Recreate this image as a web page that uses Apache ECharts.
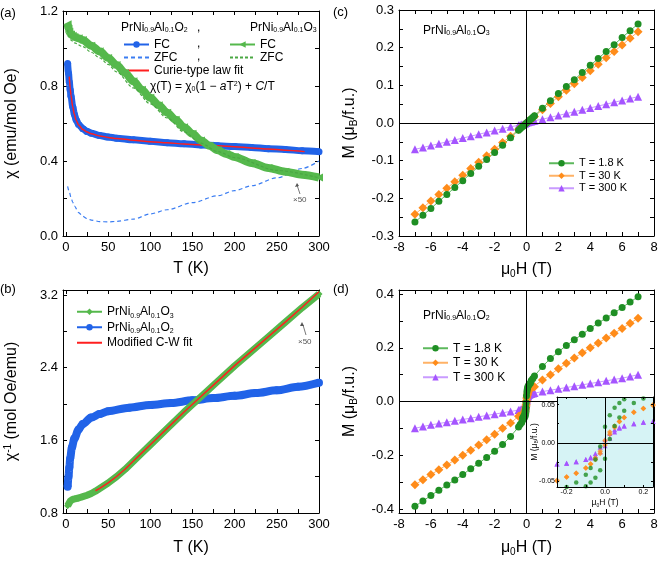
<!DOCTYPE html>
<html>
<head>
<meta charset="utf-8">
<script src="https://cdn.jsdelivr.net/npm/echarts@6/dist/echarts.min.js"></script>
<style>
  html, body { margin: 0; background: #fff; }
  #chart { width: 661px; height: 562px; }
</style>
</head>
<body>
<div id="chart"></div>
<script>
// ---- (a) chi vs T ----
const tBlueFC = [2, 3, 4, 5, 6, 8, 10, 12, 15, 20, 25, 30, 40, 50, 60, 80, 100, 120, 140, 160, 180, 200, 220, 240, 260, 280, 300];
const chiBlueFC = [0.92, 0.87, 0.82, 0.78, 0.745, 0.69, 0.65, 0.62, 0.595, 0.572, 0.558, 0.548, 0.536, 0.528, 0.522, 0.513, 0.505, 0.498, 0.492, 0.486, 0.481, 0.477, 0.472, 0.466, 0.461, 0.455, 0.45];
const tCurieFit = [4, 5, 6, 8, 10, 12, 15, 20, 25, 30, 40, 50, 60, 80, 100, 120, 140, 160, 180, 200, 220, 240, 260, 283];
const chiCurieFit = [0.85, 0.79, 0.75, 0.69, 0.648, 0.618, 0.592, 0.568, 0.555, 0.545, 0.534, 0.526, 0.52, 0.511, 0.503, 0.497, 0.491, 0.486, 0.481, 0.476, 0.47, 0.464, 0.458, 0.45];
const tBlueZFC = [2, 4, 6, 8, 10, 15, 20, 25, 30, 40, 50, 60, 80, 100, 120, 150, 180, 200, 220, 250, 280, 300];
const chiBlueZFC = [0.265, 0.235, 0.205, 0.18, 0.16, 0.125, 0.105, 0.093, 0.085, 0.077, 0.075, 0.078, 0.09, 0.118, 0.14, 0.178, 0.215, 0.242, 0.268, 0.31, 0.36, 0.4];
const tGreenFC = [2, 3, 4, 6, 8, 10, 15, 20, 30, 40, 50, 60, 70, 80, 90, 100, 110, 120, 130, 140, 150, 160, 170, 180, 190, 200, 220, 240, 260, 280, 300];
const chiGreenFC = [1.13, 1.105, 1.09, 1.075, 1.068, 1.062, 1.055, 1.045, 1.015, 0.985, 0.95, 0.912, 0.87, 0.825, 0.78, 0.737, 0.698, 0.658, 0.62, 0.58, 0.545, 0.51, 0.482, 0.457, 0.438, 0.422, 0.39, 0.363, 0.343, 0.327, 0.312];
const tGreenZFC = [2, 4, 6, 10, 20, 30, 40, 50, 60, 80, 100, 120, 140, 160, 180, 200, 250, 300];
const chiGreenZFC = [1.1, 1.06, 1.045, 1.03, 1.01, 0.98, 0.95, 0.915, 0.875, 0.79, 0.705, 0.63, 0.555, 0.495, 0.45, 0.418, 0.35, 0.31];

// ---- (b) 1/chi vs T ----
const tGreenInv = [2, 3, 5, 8, 10, 15, 20, 25, 30, 35, 40, 50, 60, 70, 80, 90, 100, 120, 140, 160, 180, 200, 220, 240, 260, 280, 300];
const invGreen = [0.88, 0.9, 0.93, 0.95, 0.955, 0.965, 0.98, 0.995, 1.015, 1.04, 1.07, 1.13, 1.2, 1.28, 1.37, 1.46, 1.55, 1.73, 1.91, 2.08, 2.25, 2.42, 2.58, 2.74, 2.9, 3.06, 3.21];
const tCWFit = [35, 40, 50, 60, 70, 80, 90, 100, 120, 140, 160, 180, 200, 220, 240, 260, 280, 300];
const invCWFit = [1.045, 1.072, 1.132, 1.202, 1.282, 1.372, 1.462, 1.552, 1.732, 1.912, 2.082, 2.252, 2.422, 2.582, 2.742, 2.902, 3.065, 3.235];
const tBlueInv = [2, 3, 4, 5, 7, 10, 15, 20, 30, 40, 50, 75, 100, 125, 150, 175, 200, 225, 250, 275, 300];
const invBlue = [1.09, 1.2, 1.3, 1.4, 1.52, 1.62, 1.72, 1.78, 1.85, 1.89, 1.92, 1.96, 1.99, 2.01, 2.04, 2.065, 2.09, 2.12, 2.15, 2.19, 2.235];

// ---- (c) M vs H, PrNi0.9Al0.1O3 ----
const hC = [-7, -6.5, -6, -5.5, -5, -4.5, -4, -3.5, -3, -2.5, -2, -1.5, -1, -0.5, -0.4, -0.3, -0.2, -0.1, 0, 0.1, 0.2, 0.3, 0.4, 0.5, 1, 1.5, 2, 2.5, 3, 3.5, 4, 4.5, 5, 5.5, 6, 6.5, 7];
const m18C = [-0.263, -0.245, -0.227, -0.208, -0.19, -0.171, -0.153, -0.134, -0.115, -0.097, -0.078, -0.059, -0.039, -0.019, -0.015, -0.011, -0.008, -0.004, 0, 0.004, 0.008, 0.011, 0.015, 0.019, 0.039, 0.059, 0.078, 0.097, 0.115, 0.134, 0.153, 0.171, 0.19, 0.208, 0.227, 0.245, 0.263];
const m30C = [-0.242, -0.225, -0.207, -0.19, -0.173, -0.156, -0.139, -0.121, -0.104, -0.087, -0.07, -0.052, -0.035, -0.0175, -0.014, -0.0105, -0.007, -0.0035, 0, 0.0035, 0.007, 0.0105, 0.014, 0.0175, 0.035, 0.052, 0.07, 0.087, 0.104, 0.121, 0.139, 0.156, 0.173, 0.19, 0.207, 0.225, 0.242];
const m300C = [-0.07, -0.065, -0.06, -0.055, -0.05, -0.045, -0.04, -0.035, -0.03, -0.025, -0.02, -0.015, -0.01, -0.006, -0.005, -0.004, -0.003, -0.002, 0, 0.002, 0.003, 0.004, 0.005, 0.006, 0.01, 0.015, 0.02, 0.025, 0.03, 0.035, 0.04, 0.045, 0.05, 0.055, 0.06, 0.065, 0.07];

// ---- (d) M vs H, PrNi0.9Al0.1O2 ----
const hOutNeg = [-7, -6.5, -6, -5.5, -5, -4.5, -4, -3.5, -3, -2.5, -2, -1.5, -1, -0.5, -0.4, -0.3];
const hOutPos = [0.3, 0.4, 0.5, 1, 1.5, 2, 2.5, 3, 3.5, 4, 4.5, 5, 5.5, 6, 6.5, 7];
const m18DNeg = [-0.39, -0.37, -0.35, -0.33, -0.311, -0.292, -0.272, -0.25, -0.23, -0.208, -0.185, -0.16, -0.13, -0.095, -0.086, -0.078];
const m18DPos = [0.078, 0.086, 0.095, 0.13, 0.16, 0.185, 0.208, 0.23, 0.25, 0.272, 0.292, 0.311, 0.33, 0.35, 0.37, 0.39];
const m30DNeg = [-0.31, -0.291, -0.272, -0.254, -0.236, -0.218, -0.2, -0.181, -0.162, -0.142, -0.122, -0.1, -0.08, -0.055, -0.054, -0.052];
const m30DPos = [0.052, 0.054, 0.055, 0.08, 0.1, 0.122, 0.142, 0.162, 0.181, 0.2, 0.218, 0.236, 0.254, 0.272, 0.291, 0.31];
const m300DNeg = [-0.1, -0.093, -0.087, -0.082, -0.077, -0.072, -0.067, -0.062, -0.057, -0.052, -0.047, -0.042, -0.037, -0.032, -0.03, -0.029];
const m300DPos = [0.029, 0.03, 0.032, 0.037, 0.042, 0.047, 0.052, 0.057, 0.062, 0.067, 0.072, 0.077, 0.082, 0.087, 0.093, 0.1];

// inset loops (low field)
const hIn = [-0.25, -0.2, -0.15, -0.1, -0.075, -0.05, -0.025, 0, 0.025, 0.05, 0.075, 0.1, 0.15, 0.2, 0.25];
const m18Down = [-0.062, -0.058, -0.052, -0.042, -0.033, -0.022, -0.005, 0.021, 0.036, 0.046, 0.052, 0.057, 0.062, 0.066, 0.069];
const m18Up = [-0.069, -0.066, -0.062, -0.057, -0.052, -0.046, -0.036, -0.021, 0.005, 0.022, 0.033, 0.042, 0.052, 0.058, 0.062];
const m30Down = [-0.049, -0.045, -0.04, -0.033, -0.028, -0.02, -0.011, 0.003, 0.014, 0.022, 0.028, 0.033, 0.04, 0.045, 0.05];
const m30Up = [-0.05, -0.045, -0.04, -0.033, -0.028, -0.022, -0.014, -0.003, 0.011, 0.02, 0.028, 0.033, 0.04, 0.045, 0.049];
const m300Down = [-0.028, -0.027, -0.025, -0.022, -0.019, -0.014, -0.006, 0.004, 0.012, 0.017, 0.02, 0.022, 0.025, 0.027, 0.028];
const m300Up = [-0.028, -0.027, -0.025, -0.022, -0.02, -0.017, -0.012, -0.004, 0.006, 0.014, 0.019, 0.022, 0.025, 0.027, 0.028];

// ticks
const tTicks = [0, 25, 50, 75, 100, 125, 150, 175, 200, 225, 250, 275, 300];
const tLabels = [0, 50, 100, 150, 200, 250, 300];
const chiTicks = [0, 0.2, 0.4, 0.6, 0.8, 1.0, 1.2];
const chiLabels = [0, 0.4, 0.8, 1.2];
const invTicks = [0.8, 1.2, 1.6, 2.0, 2.4, 2.8, 3.2];
const invLabels = [0.8, 1.6, 2.4, 3.2];
const hTicks = [-8, -7, -6, -5, -4, -3, -2, -1, 0, 1, 2, 3, 4, 5, 6, 7, 8];
const hLabels = [-8, -6, -4, -2, 0, 2, 4, 6, 8];
const mCTicks = [-0.3, -0.25, -0.2, -0.15, -0.1, -0.05, 0, 0.05, 0.1, 0.15, 0.2, 0.25, 0.3];
const mCLabels = [-0.3, -0.2, -0.1, 0, 0.1, 0.2, 0.3];
const mDTicks = [-0.4, -0.3, -0.2, -0.1, 0, 0.1, 0.2, 0.3, 0.4];
const mDLabels = [-0.4, -0.2, 0, 0.2, 0.4];
const hInTicks = [-0.2, -0.1, 0, 0.1, 0.2];
const hInLabels = [-0.2, 0, 0.2];
const mInTicks = [-0.05, -0.025, 0, 0.025, 0.05];
const mInLabels = [-0.05, 0, 0.05];

const FONT = '"Liberation Sans", Arial, sans-serif';
const BLUE = '#2163e8', GREEN = '#55b84c', RED = '#ff1f1f';
const G18 = '#1f8f24', OR30 = '#ff8c1a', PU300 = '#a555ff';
const NOFILL = { color: 'rgba(0,0,0,0)', borderColor: 'rgba(0,0,0,0)', borderWidth: 0 };

const pairs = (xs, ys) => xs.map((x, i) => [x, ys[i]]);

function rich(fs) {
  return {
    sub: { fontSize: Math.round(fs * 0.62), lineHeight: Math.round(fs * 0.75), verticalAlign: 'bottom', fontFamily: FONT, color: '#000' },
    sup: { fontSize: Math.round(fs * 0.62), lineHeight: Math.round(fs * 0.75), verticalAlign: 'top', fontFamily: FONT, color: '#000' },
    it: { fontSize: fs, fontStyle: 'italic', fontFamily: FONT, color: '#000' }
  };
}
const compound = s => s.replace(/(\d\.\d|\d)/g, '{sub|$1}');

const xAxes = [], yAxes = [];
function addAxes(g, xc, yc, z) {
  const mk = (pos, c, show) => ({
    type: 'value', gridIndex: g, position: pos, min: c.min, max: c.max, z: z || 0,
    axisLine: { show: true, onZero: false, lineStyle: { color: '#000', width: 1 } },
    axisTick: { show: true, inside: true, length: c.tick || 4, customValues: c.ticks, lineStyle: { color: '#000', width: 1 } },
    axisLabel: { show: show, customValues: c.labels, formatter: c.fmt, fontSize: c.fs || 13, fontFamily: FONT, color: '#000', margin: c.margin || 5 },
    splitLine: { show: false },
    name: show ? c.name : '', nameLocation: 'middle', nameGap: c.gap,
    nameTextStyle: { fontSize: c.nfs || 16, fontFamily: FONT, color: '#000', lineHeight: Math.round((c.nfs || 16) * 1.15), rich: rich(c.nfs || 16) }
  });
  xAxes.push(mk('bottom', xc, true), mk('top', xc, false));
  yAxes.push(mk('left', yc, true), mk('right', yc, false));
}

const fmt1 = v => v.toFixed(1);
const fmt0 = v => String(v);
const fmt2 = v => v.toFixed(2);

addAxes(0, { min: -3.5, max: 300, ticks: tTicks, labels: tLabels, fmt: fmt0, name: 'T (K)', gap: 24 },
           { min: 0, max: 1.2, ticks: chiTicks, labels: chiLabels, fmt: fmt1, name: 'χ (emu/mol Oe)', gap: 42 });
addAxes(1, { min: -3.5, max: 300, ticks: tTicks, labels: tLabels, fmt: fmt0, name: 'T (K)', gap: 26 },
           { min: 0.8, max: 3.255, ticks: invTicks, labels: invLabels, fmt: fmt1, name: 'χ{sup|-1} (mol Oe/emu)', gap: 42 });
addAxes(2, { min: -8, max: 8, ticks: hTicks, labels: hLabels, fmt: fmt0, name: 'μ{sub|0}H (T)', gap: 25 },
           { min: -0.3, max: 0.3, ticks: mCTicks, labels: mCLabels, fmt: fmt1, name: 'M (μ{sub|B}/f.u.)', gap: 40 });
addAxes(3, { min: -8, max: 8, ticks: hTicks, labels: hLabels, fmt: fmt0, name: 'μ{sub|0}H (T)', gap: 26 },
           { min: -0.415, max: 0.415, ticks: mDTicks, labels: mDLabels, fmt: fmt1, name: 'M (μ{sub|B}/f.u.)', gap: 40 });
addAxes(4, { min: -0.25, max: 0.25, ticks: hInTicks, labels: hInLabels, fmt: fmt1, name: 'μ{sub|0}H (T)', gap: 11, fs: 7, nfs: 8.5, margin: 2, tick: 2 },
           { min: -0.058, max: 0.06, ticks: mInTicks, labels: mInLabels, fmt: fmt2, name: '', fs: 7, margin: 2, tick: 2 }, 61);

// panel p uses its bottom/left axes, index 2p
const line = (name, p, data, color, extra) => Object.assign({
  name: name, type: 'line', xAxisIndex: 2 * p, yAxisIndex: 2 * p, data: data,
  showSymbol: false, symbol: 'none', smooth: 0.3, smoothMonotone: 'x',
  lineStyle: { color: color, width: 1.5 }, itemStyle: NOFILL, animation: false
}, extra || {});

const mh = (name, p, data, color, lineColor, symbol, size, extra) => Object.assign({
  name: name, type: 'line', xAxisIndex: 2 * p, yAxisIndex: 2 * p, data: data,
  symbol: symbol, symbolSize: size, showSymbol: true,
  lineStyle: { color: lineColor, width: 1 }, itemStyle: { color: color }, animation: false
}, extra || {});

const dotSeries = (p, data, color, symbol, size, z) => ({
  type: 'scatter', xAxisIndex: 2 * p, yAxisIndex: 2 * p, data: data, symbol: symbol, symbolSize: size,
  itemStyle: { color: color }, z: z || 2, animation: false, silent: true
});

const zeroLines = z => ({
  silent: true, symbol: 'none', label: { show: false }, animation: false, z: z || 5,
  lineStyle: { color: '#000', width: 1, type: 'solid' },
  data: [{ yAxis: 0 }, { xAxis: 0 }]
});

const series = [
  // (a)
  line('ZFC', 0, pairs(tBlueZFC, chiBlueZFC), '#3b7df2', { lineStyle: { color: '#3b7df2', width: 1.2, type: [4, 3] }, z: 2 }),
  line('FC', 0, pairs(tBlueFC, chiBlueFC), BLUE, { symbol: 'circle', symbolSize: 7, showSymbol: true, itemStyle: { color: BLUE }, lineStyle: { color: BLUE, width: 7 }, z: 3 }),
  line('Curie-type law fit', 0, pairs(tCurieFit, chiCurieFit), RED, { z: 4 }),
  line('FC\u200b', 0, pairs(tGreenFC, chiGreenFC), GREEN, { symbol: 'triangle', symbolRotate: 90, symbolSize: 8, showSymbol: true, itemStyle: { color: GREEN }, lineStyle: { color: GREEN, width: 8 }, z: 5 }),
  line('ZFC\u200b', 0, pairs(tGreenZFC, chiGreenZFC), '#4aa843', { lineStyle: { color: '#4aa843', width: 1.2, type: [3, 2] }, z: 6 }),
  // (b)
  line('PrNi0.9Al0.1O2', 1, pairs(tBlueInv, invBlue), BLUE, { symbol: 'circle', symbolSize: 8, showSymbol: true, itemStyle: { color: BLUE }, lineStyle: { color: BLUE, width: 8 }, z: 3 }),
  line('PrNi0.9Al0.1O3', 1, pairs(tGreenInv, invGreen), GREEN, { smooth: false, symbol: 'diamond', symbolSize: 7, showSymbol: true, itemStyle: { color: GREEN }, lineStyle: { color: GREEN, width: 7, join: 'round' }, z: 4 }),
  line('Modified C-W fit', 1, pairs(tCWFit, invCWFit), RED, { smooth: false, z: 5 }),
  // (c)
  mh('T = 300 K', 2, pairs(hC, m300C), PU300, '#c99bff', 'triangle', 8, { markLine: zeroLines() }),
  mh('T = 30 K', 2, pairs(hC, m30C), OR30, '#ffb266', 'diamond', 9),
  mh('T = 1.8 K', 2, pairs(hC, m18C), G18, '#5cb85c', 'circle', 7),
  // (d)
  mh('T = 300 K', 3, pairs(hOutNeg, m300DNeg).concat(pairs(hIn, m300Down), pairs(hOutPos, m300DPos)), PU300, '#c99bff', 'triangle', 8, { markLine: zeroLines() }),
  mh('T = 30 K', 3, pairs(hOutNeg, m30DNeg).concat(pairs(hIn, m30Down), pairs(hOutPos, m30DPos)), OR30, '#ffb266', 'diamond', 9),
  mh('T = 1.8 K', 3, pairs(hOutNeg, m18DNeg).concat(pairs(hIn, m18Down), pairs(hOutPos, m18DPos)), G18, '#5cb85c', 'circle', 7),
  dotSeries(3, pairs(hIn, m300Up), PU300, 'triangle', 8, 2),
  dotSeries(3, pairs(hIn, m30Up), OR30, 'diamond', 9, 2),
  dotSeries(3, pairs(hIn, m18Up), G18, 'circle', 7, 2),
  // inset
  mh('', 4, pairs(hIn, m300Down).concat(pairs(hIn, m300Up)), PU300, 'rgba(0,0,0,0)', 'triangle', 5,
     { z: 60, clip: true, lineStyle: { width: 0, opacity: 0 }, markLine: zeroLines(62) }),
  dotSeries(4, pairs(hIn, m30Down).concat(pairs(hIn, m30Up)), OR30, 'diamond', 5.5, 60),
  dotSeries(4, pairs(hIn, m18Down).concat(pairs(hIn, m18Up)), G18, 'circle', 4.5, 60)
];

const legendBase = (left, top, data, fs, lh) => ({
  orient: 'vertical', left: left, top: top, padding: 0, itemGap: 0,
  itemWidth: 25, itemHeight: 8, data: data, selectedMode: false,
  textStyle: { fontSize: fs, fontFamily: FONT, color: '#000', lineHeight: lh, rich: rich(fs) },
  formatter: n => n.indexOf('PrNi') === 0 ? compound(n) : n.replace('\u200b', '')
});

const legends = [
  legendBase(123, 38, ['FC', 'ZFC', 'Curie-type law fit'], 12, 13),
  legendBase(229, 38, ['FC\u200b', 'ZFC\u200b'], 12, 13),
  legendBase(76, 304, ['PrNi0.9Al0.1O3', 'PrNi0.9Al0.1O2', 'Modified C-W fit'], 12, 15.5),
  legendBase(548, 157, ['T = 1.8 K', 'T = 30 K', 'T = 300 K'], 11, 12.5),
  legendBase(422, 341, ['T = 1.8 K', 'T = 30 K', 'T = 300 K'], 12, 14.5)
];

const txt = (x, y, text, fs, fill, extra) => Object.assign({
  type: 'text', x: x, y: y, z: 100,
  style: { text: text, fontSize: fs, fontFamily: FONT, fill: fill || '#000', verticalAlign: 'middle', rich: rich(fs) }
}, extra || {});

const graphics = [
  txt(0, 13, '(a)', 13), txt(0, 289, '(b)', 13), txt(333, 12, '(c)', 13), txt(333, 289, '(d)', 13),
  txt(121, 28, compound('PrNi0.9Al0.1O2'), 12), txt(197, 28, ',', 12),
  txt(250, 28, compound('PrNi0.9Al0.1O3'), 12),
  txt(197, 44, ',', 12), txt(197, 57, ',', 12),
  txt(150, 87, 'χ(T) = χ{sub|0}(1 − {it|a}T{sup|2}) + {it|C}/T', 12),
  txt(423, 31, compound('PrNi0.9Al0.1O3'), 12),
  txt(423, 316, compound('PrNi0.9Al0.1O2'), 12),
  txt(293, 200, '×50', 8, '#555'),
  txt(298, 342, '×50', 8, '#555'),
  // inset y title
  Object.assign(txt(535, 442, 'M (μ{sub|B}/f.u.)', 8.5, '#000', { rotation: Math.PI / 2 }),
    { style: { text: 'M (μ{sub|B}/f.u.)', fontSize: 8.5, fontFamily: FONT, fill: '#000', align: 'center', verticalAlign: 'middle', rich: rich(8.5) } }),
  { type: 'line', z: 100, shape: { x1: 300, y1: 194, x2: 297, y2: 185 }, style: { stroke: '#555', lineWidth: 0.8 } },
  { type: 'polygon', z: 100, shape: { points: [[297, 183], [295, 187], [299, 186]] }, style: { fill: '#555' } },
  { type: 'line', z: 100, shape: { x1: 306, y1: 335, x2: 303, y2: 325 }, style: { stroke: '#555', lineWidth: 0.8 } },
  { type: 'polygon', z: 100, shape: { points: [[302, 322], [300, 326], [304, 326]] }, style: { fill: '#555' } },
  // inset background
  { type: 'rect', z: 50, shape: { x: 557, y: 397, width: 96, height: 90 }, style: { fill: '#d6f3f5' } }
];

const chart = echarts.init(document.getElementById('chart'), null, { renderer: 'canvas' });
chart.setOption({
  animation: false,
  backgroundColor: '#fff',
  grid: [
    { left: 63, top: 11, width: 256, height: 225 },
    { left: 63, top: 290, width: 256, height: 223 },
    { left: 399, top: 10, width: 255, height: 226 },
    { left: 399, top: 290, width: 255, height: 223 },
    { left: 557, top: 397, width: 96, height: 90, z: 60 }
  ],
  xAxis: xAxes,
  yAxis: yAxes,
  legend: legends,
  series: series,
  graphic: { elements: graphics }
});
</script>
</body>
</html>
